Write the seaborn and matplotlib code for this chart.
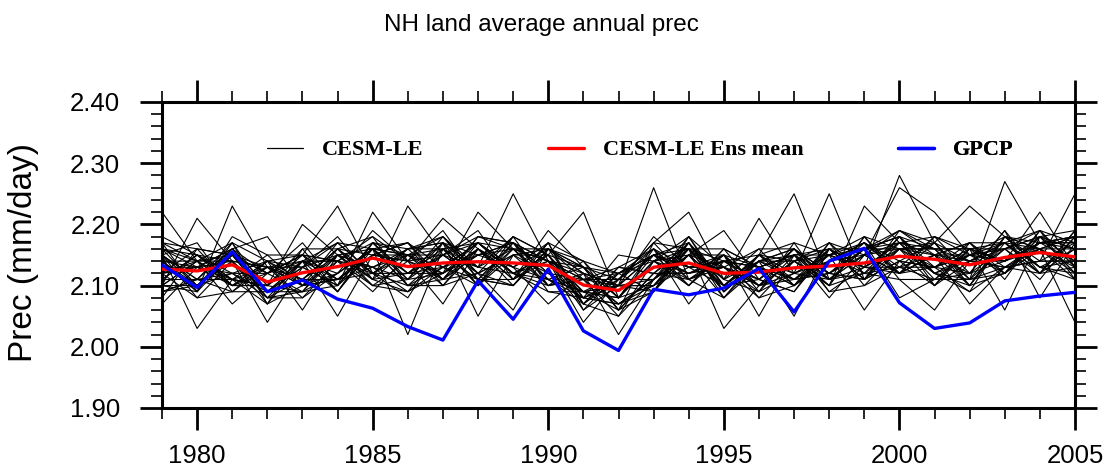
import numpy as np
import pandas as pd
import matplotlib
matplotlib.use("Agg")
import matplotlib.pyplot as plt
import seaborn as sns
from matplotlib.lines import Line2D
from matplotlib.ticker import MultipleLocator, FormatStrFormatter
from matplotlib.font_manager import FontProperties

years = list(range(1979, 2006))

# NH land average annual precipitation (mm/day)
gpcp = [2.134, 2.097, 2.155, 2.090, 2.109, 2.078, 2.063, 2.033, 2.011, 2.108,
        2.045, 2.127, 2.026, 1.994, 2.094, 2.085, 2.096, 2.128, 2.057, 2.140,
        2.161, 2.072, 2.030, 2.039, 2.075, 2.083, 2.089]

ens_mean = [2.127, 2.124, 2.134, 2.106, 2.121, 2.131, 2.145, 2.131, 2.137, 2.139,
            2.137, 2.133, 2.101, 2.092, 2.130, 2.137, 2.120, 2.122, 2.129, 2.132,
            2.137, 2.148, 2.143, 2.134, 2.146, 2.154, 2.147]

# 40 CESM-LE members
members = [
    [2.22, 2.14, 2.10, 2.10, 2.16, 2.09, 2.17, 2.11, 2.15, 2.19, 2.11, 2.15, 2.09, 2.10, 2.15, 2.17, 2.08, 2.13, 2.10, 2.17, 2.12, 2.18, 2.10, 2.14, 2.17, 2.12, 2.16],
    [2.10, 2.21, 2.14, 2.07, 2.14, 2.17, 2.12, 2.08, 2.17, 2.13, 2.18, 2.10, 2.11, 2.07, 2.11, 2.15, 2.15, 2.10, 2.16, 2.11, 2.15, 2.12, 2.17, 2.11, 2.16, 2.18, 2.12],
    [2.14, 2.09, 2.23, 2.13, 2.08, 2.12, 2.16, 2.15, 2.10, 2.16, 2.13, 2.17, 2.07, 2.11, 2.17, 2.11, 2.13, 2.08, 2.14, 2.17, 2.10, 2.16, 2.13, 2.17, 2.12, 2.16, 2.18],
    [2.07, 2.13, 2.16, 2.18, 2.10, 2.11, 2.15, 2.17, 2.13, 2.10, 2.16, 2.14, 2.12, 2.10, 2.10, 2.17, 2.09, 2.15, 2.11, 2.14, 2.17, 2.12, 2.15, 2.10, 2.18, 2.16, 2.11],
    [2.15, 2.03, 2.11, 2.10, 2.20, 2.15, 2.11, 2.16, 2.18, 2.12, 2.10, 2.16, 2.13, 2.08, 2.14, 2.10, 2.16, 2.13, 2.15, 2.10, 2.18, 2.16, 2.10, 2.16, 2.14, 2.17, 2.17],
    [2.16, 2.14, 2.07, 2.12, 2.15, 2.23, 2.12, 2.12, 2.15, 2.17, 2.13, 2.11, 2.09, 2.12, 2.15, 2.12, 2.13, 2.16, 2.10, 2.16, 2.11, 2.18, 2.16, 2.14, 2.13, 2.12, 2.19],
    [2.11, 2.15, 2.14, 2.04, 2.13, 2.10, 2.22, 2.14, 2.11, 2.15, 2.17, 2.14, 2.11, 2.10, 2.11, 2.17, 2.10, 2.14, 2.16, 2.12, 2.16, 2.16, 2.12, 2.11, 2.18, 2.16, 2.13],
    [2.09, 2.11, 2.17, 2.14, 2.06, 2.15, 2.11, 2.23, 2.15, 2.11, 2.16, 2.16, 2.13, 2.08, 2.14, 2.15, 2.13, 2.10, 2.14, 2.16, 2.13, 2.13, 2.18, 2.15, 2.12, 2.18, 2.16],
    [2.15, 2.10, 2.12, 2.09, 2.14, 2.05, 2.15, 2.14, 2.21, 2.16, 2.12, 2.14, 2.07, 2.12, 2.16, 2.13, 2.14, 2.11, 2.16, 2.12, 2.17, 2.12, 2.15, 2.14, 2.16, 2.19, 2.13],
    [2.12, 2.16, 2.15, 2.13, 2.10, 2.14, 2.09, 2.15, 2.12, 2.22, 2.16, 2.10, 2.12, 2.10, 2.09, 2.15, 2.10, 2.15, 2.12, 2.15, 2.13, 2.17, 2.12, 2.15, 2.14, 2.17, 2.18],
    [2.14, 2.13, 2.12, 2.12, 2.15, 2.11, 2.16, 2.02, 2.16, 2.13, 2.25, 2.14, 2.09, 2.08, 2.15, 2.12, 2.14, 2.13, 2.10, 2.14, 2.15, 2.19, 2.16, 2.10, 2.17, 2.16, 2.16],
    [2.10, 2.14, 2.10, 2.14, 2.11, 2.16, 2.15, 2.14, 2.07, 2.16, 2.11, 2.19, 2.13, 2.11, 2.11, 2.18, 2.13, 2.11, 2.15, 2.11, 2.12, 2.16, 2.15, 2.15, 2.18, 2.13, 2.14],
    [2.17, 2.09, 2.15, 2.08, 2.14, 2.14, 2.13, 2.11, 2.17, 2.05, 2.15, 2.15, 2.22, 2.08, 2.10, 2.13, 2.13, 2.10, 2.14, 2.15, 2.17, 2.14, 2.13, 2.16, 2.14, 2.16, 2.12],
    [2.11, 2.15, 2.10, 2.12, 2.09, 2.12, 2.16, 2.17, 2.11, 2.12, 2.06, 2.16, 2.08, 2.15, 2.14, 2.16, 2.09, 2.14, 2.16, 2.12, 2.11, 2.17, 2.18, 2.12, 2.16, 2.18, 2.16],
    [2.13, 2.13, 2.16, 2.09, 2.13, 2.10, 2.17, 2.12, 2.16, 2.17, 2.13, 2.07, 2.12, 2.10, 2.26, 2.11, 2.14, 2.13, 2.11, 2.15, 2.13, 2.12, 2.15, 2.17, 2.13, 2.14, 2.17],
    [2.15, 2.11, 2.11, 2.13, 2.11, 2.16, 2.18, 2.10, 2.13, 2.15, 2.17, 2.14, 2.04, 2.11, 2.17, 2.22, 2.11, 2.14, 2.11, 2.12, 2.16, 2.18, 2.12, 2.14, 2.17, 2.19, 2.13],
    [2.10, 2.10, 2.15, 2.12, 2.14, 2.14, 2.12, 2.16, 2.17, 2.12, 2.15, 2.16, 2.12, 2.02, 2.11, 2.15, 2.19, 2.11, 2.16, 2.11, 2.13, 2.16, 2.17, 2.11, 2.13, 2.16, 2.18],
    [2.14, 2.14, 2.14, 2.09, 2.14, 2.12, 2.16, 2.12, 2.13, 2.17, 2.12, 2.11, 2.08, 2.07, 2.09, 2.17, 2.11, 2.21, 2.12, 2.14, 2.17, 2.13, 2.11, 2.16, 2.17, 2.13, 2.16],
    [2.11, 2.11, 2.12, 2.14, 2.10, 2.17, 2.12, 2.15, 2.18, 2.13, 2.16, 2.14, 2.11, 2.13, 2.16, 2.07, 2.14, 2.15, 2.25, 2.11, 2.16, 2.19, 2.15, 2.12, 2.14, 2.18, 2.14],
    [2.16, 2.15, 2.11, 2.10, 2.15, 2.14, 2.17, 2.12, 2.12, 2.16, 2.12, 2.10, 2.14, 2.06, 2.12, 2.16, 2.03, 2.10, 2.12, 2.25, 2.11, 2.14, 2.13, 2.15, 2.16, 2.12, 2.19],
    [2.12, 2.14, 2.17, 2.09, 2.11, 2.11, 2.13, 2.16, 2.16, 2.10, 2.18, 2.15, 2.08, 2.10, 2.15, 2.13, 2.15, 2.05, 2.15, 2.10, 2.23, 2.17, 2.12, 2.10, 2.18, 2.17, 2.17],
    [2.15, 2.08, 2.14, 2.13, 2.13, 2.15, 2.16, 2.11, 2.12, 2.15, 2.13, 2.16, 2.11, 2.12, 2.09, 2.18, 2.10, 2.14, 2.05, 2.16, 2.13, 2.28, 2.17, 2.14, 2.13, 2.14, 2.14],
    [2.12, 2.13, 2.11, 2.10, 2.09, 2.16, 2.10, 2.14, 2.15, 2.18, 2.17, 2.12, 2.09, 2.08, 2.14, 2.12, 2.15, 2.13, 2.15, 2.08, 2.15, 2.26, 2.22, 2.15, 2.14, 2.17, 2.18],
    [2.17, 2.14, 2.15, 2.12, 2.15, 2.09, 2.16, 2.10, 2.15, 2.13, 2.12, 2.15, 2.13, 2.12, 2.15, 2.16, 2.11, 2.09, 2.15, 2.15, 2.06, 2.14, 2.17, 2.23, 2.18, 2.14, 2.14],
    [2.09, 2.10, 2.14, 2.13, 2.11, 2.15, 2.13, 2.15, 2.13, 2.11, 2.17, 2.12, 2.08, 2.07, 2.11, 2.15, 2.10, 2.15, 2.10, 2.14, 2.17, 2.08, 2.11, 2.11, 2.27, 2.17, 2.18],
    [2.15, 2.11, 2.09, 2.14, 2.15, 2.11, 2.15, 2.15, 2.11, 2.16, 2.11, 2.17, 2.14, 2.08, 2.16, 2.11, 2.15, 2.10, 2.14, 2.10, 2.12, 2.11, 2.06, 2.14, 2.14, 2.22, 2.13],
    [2.11, 2.15, 2.12, 2.08, 2.11, 2.16, 2.11, 2.12, 2.17, 2.15, 2.16, 2.11, 2.07, 2.13, 2.12, 2.12, 2.14, 2.13, 2.15, 2.16, 2.16, 2.17, 2.15, 2.07, 2.13, 2.14, 2.25],
    [2.16, 2.10, 2.16, 2.10, 2.14, 2.11, 2.16, 2.15, 2.16, 2.12, 2.15, 2.10, 2.11, 2.05, 2.14, 2.18, 2.09, 2.14, 2.12, 2.11, 2.15, 2.16, 2.16, 2.16, 2.06, 2.18, 2.12],
    [2.08, 2.16, 2.10, 2.13, 2.10, 2.15, 2.10, 2.09, 2.12, 2.17, 2.16, 2.14, 2.06, 2.12, 2.15, 2.13, 2.13, 2.09, 2.17, 2.15, 2.12, 2.13, 2.13, 2.12, 2.19, 2.08, 2.17],
    [2.14, 2.10, 2.15, 2.09, 2.09, 2.10, 2.17, 2.15, 2.15, 2.11, 2.10, 2.16, 2.12, 2.07, 2.10, 2.16, 2.16, 2.13, 2.11, 2.12, 2.15, 2.17, 2.11, 2.15, 2.16, 2.16, 2.04],
    [2.18, 2.15, 2.11, 2.07, 2.16, 2.16, 2.12, 2.10, 2.11, 2.18, 2.16, 2.11, 2.09, 2.10, 2.18, 2.13, 2.10, 2.11, 2.09, 2.16, 2.11, 2.16, 2.16, 2.11, 2.12, 2.17, 2.16],
    [2.10, 2.09, 2.18, 2.15, 2.10, 2.12, 2.19, 2.14, 2.19, 2.11, 2.11, 2.14, 2.13, 2.06, 2.12, 2.17, 2.10, 2.15, 2.14, 2.10, 2.18, 2.12, 2.18, 2.16, 2.16, 2.11, 2.18],
    [2.15, 2.17, 2.09, 2.09, 2.13, 2.18, 2.11, 2.09, 2.13, 2.17, 2.12, 2.09, 2.08, 2.11, 2.16, 2.10, 2.16, 2.09, 2.12, 2.15, 2.16, 2.18, 2.12, 2.09, 2.18, 2.13, 2.11],
    [2.09, 2.11, 2.16, 2.12, 2.17, 2.10, 2.15, 2.17, 2.10, 2.12, 2.18, 2.15, 2.07, 2.05, 2.11, 2.16, 2.11, 2.16, 2.16, 2.09, 2.10, 2.13, 2.15, 2.17, 2.11, 2.19, 2.17],
    [2.16, 2.13, 2.14, 2.08, 2.08, 2.14, 2.10, 2.11, 2.18, 2.11, 2.10, 2.16, 2.14, 2.12, 2.14, 2.11, 2.14, 2.11, 2.09, 2.17, 2.15, 2.12, 2.13, 2.15, 2.17, 2.13, 2.12],
    [2.12, 2.08, 2.09, 2.13, 2.14, 2.09, 2.17, 2.16, 2.11, 2.18, 2.17, 2.09, 2.09, 2.06, 2.09, 2.16, 2.09, 2.14, 2.15, 2.12, 2.11, 2.19, 2.17, 2.10, 2.12, 2.18, 2.19],
    [2.17, 2.16, 2.15, 2.08, 2.09, 2.15, 2.13, 2.09, 2.16, 2.10, 2.15, 2.12, 2.11, 2.11, 2.15, 2.10, 2.15, 2.08, 2.10, 2.15, 2.18, 2.11, 2.11, 2.12, 2.19, 2.12, 2.13],
    [2.10, 2.14, 2.11, 2.15, 2.15, 2.14, 2.18, 2.14, 2.12, 2.16, 2.10, 2.17, 2.06, 2.10, 2.10, 2.15, 2.08, 2.15, 2.17, 2.09, 2.13, 2.17, 2.16, 2.16, 2.12, 2.19, 2.11],
    [2.14, 2.09, 2.17, 2.07, 2.10, 2.11, 2.12, 2.16, 2.17, 2.10, 2.17, 2.11, 2.13, 2.06, 2.17, 2.16, 2.14, 2.10, 2.11, 2.16, 2.11, 2.14, 2.10, 2.17, 2.17, 2.12, 2.18],
    [2.12, 2.13, 2.10, 2.14, 2.13, 2.17, 2.16, 2.10, 2.10, 2.17, 2.12, 2.15, 2.07, 2.13, 2.12, 2.11, 2.08, 2.14, 2.14, 2.11, 2.16, 2.18, 2.13, 2.09, 2.13, 2.17, 2.14],
]

legend_labels = ["CESM-LE", "CESM-LE Ens mean", "GPCP"]

# long form table for seaborn
rows = []
for i, m in enumerate(members):
    for y, v in zip(years, m):
        rows.append((i, y, v))
df_ens = pd.DataFrame(rows, columns=["member", "year", "prec"])
df_obs = pd.DataFrame({"year": years, "mean": ens_mean, "gpcp": gpcp})

sns.set_theme(style="white")
plt.rcParams["font.family"] = ["Liberation Sans", "DejaVu Sans"]
plt.rcParams["text.color"] = "black"
plt.rcParams["axes.labelcolor"] = "black"
plt.rcParams["xtick.color"] = "black"
plt.rcParams["ytick.color"] = "black"

fig = plt.figure(figsize=(11.1, 4.7), dpi=100)
ax = fig.add_axes([162 / 1110, 62 / 470, 913 / 1110, 306 / 470])

sns.lineplot(data=df_ens, x="year", y="prec", units="member", estimator=None,
             color="black", lw=0.8, ax=ax, legend=False, zorder=2)
sns.lineplot(data=df_obs, x="year", y="mean", color="#ff0000", lw=2.4, ax=ax, zorder=3)
sns.lineplot(data=df_obs, x="year", y="gpcp", color="#0000ff", lw=2.4, ax=ax, zorder=4)

ax.set_xlim(1979, 2005)
ax.set_ylim(1.90, 2.40)
ax.set_xlabel("")
ax.set_ylabel("")
ax.xaxis.set_major_locator(MultipleLocator(5))
ax.xaxis.set_minor_locator(MultipleLocator(1))
ax.yaxis.set_major_locator(MultipleLocator(0.1))
ax.yaxis.set_minor_locator(MultipleLocator(0.02))
ax.yaxis.set_major_formatter(FormatStrFormatter("%.2f"))
ax.xaxis.set_major_formatter(FormatStrFormatter("%d"))

for s in ax.spines.values():
    s.set_visible(True)
    s.set_linewidth(2.2)
    s.set_color("black")

ax.tick_params(which="both", direction="out", top=True, right=True,
               bottom=True, left=True,
               labeltop=False, labelright=False, labelbottom=True, labelleft=True,
               colors="black")
ax.tick_params(which="major", length=16, width=2.0, labelsize=18.5)
ax.tick_params(which="minor", length=8, width=1.2)
ax.tick_params(axis="x", which="major", pad=10)
ax.tick_params(axis="y", which="major", pad=14)

fig.text(24 / 1110, 1 - 253 / 470, "Prec (mm/day)", rotation=90,
         ha="center", va="center", fontsize=24, color="black")
fig.text(541 / 1110, 1 - 25 / 470, "NH land average annual prec",
         ha="center", va="center", fontsize=17.5, color="black")

# three separate legend entries placed along the top of the panel
leg_font = FontProperties(family="Liberation Serif", weight="bold", size=16)
handles = [Line2D([], [], color="black", lw=0.9),
           Line2D([], [], color="#ff0000", lw=2.4),
           Line2D([], [], color="#0000ff", lw=2.4)]
anchors = [0.115, 0.423, 0.806]
for h, lab, xa in zip(handles, legend_labels, anchors):
    leg = ax.legend(handles=[h], labels=[lab], loc="center left",
                    bbox_to_anchor=(xa, 0.843), frameon=False, prop=leg_font,
                    handlelength=1.62, handletextpad=0.86,
                    borderpad=0, borderaxespad=0, labelcolor="black")
    ax.add_artist(leg)

fig.savefig("out.png", dpi=100)
